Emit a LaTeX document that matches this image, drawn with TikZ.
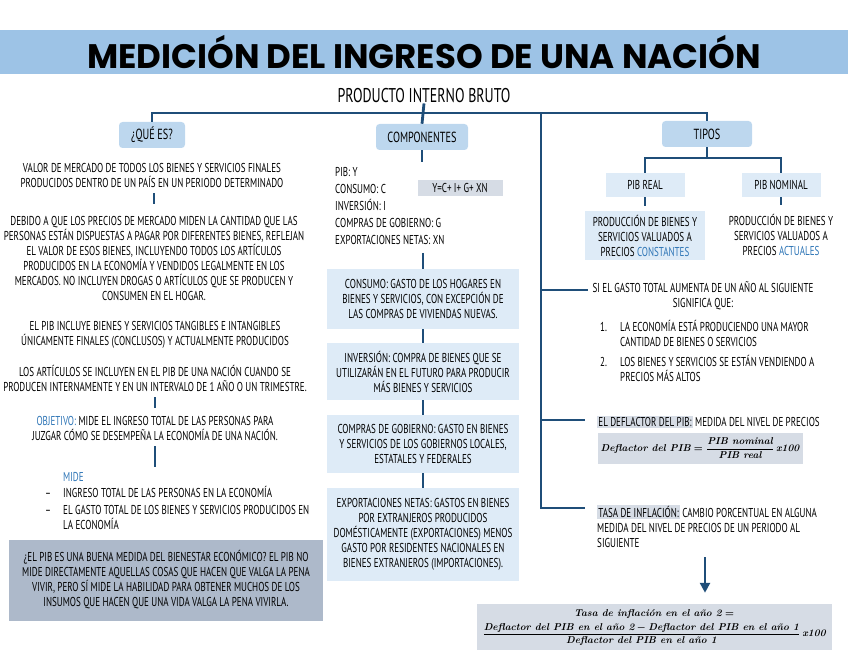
\documentclass[tikz,border=0pt]{standalone}
\usepackage{amsmath}
\usepackage{fontspec}
\usepackage{tikz}
\usetikzlibrary{arrows.meta,positioning}
\definecolor{MINavy}{HTML}{1F4E79}
\definecolor{MIBand}{HTML}{9DC3E6}
\definecolor{MICat}{HTML}{BDD7EE}
\definecolor{MILight}{HTML}{DEEBF7}
\definecolor{MIGray}{HTML}{D6DCE5}
\definecolor{MISlate}{HTML}{ADB9CA}
\definecolor{MIBlue}{HTML}{2E75B6}
\newfontfamily\handfont{PT Sans}[FakeStretch=0.7]
\newfontfamily\titlefont{Poppins}
\newlength{\pxu}
\setlength{\pxu}{0.03cm}
\setlength{\fboxsep}{1pt}

\begin{document}
\begin{tikzpicture}[
  x=0.03cm, y=-0.03cm,
  hand/.style={font=\handfont\fontsize{11}{12.8}\selectfont,align=center,inner sep=0pt},
  band/.style={fill=MIBand,minimum width=848\pxu,minimum height=44\pxu,inner sep=0pt,
    font=\titlefont\bfseries\fontsize{29}{32}\selectfont},
  catbox/.style={hand,font=\handfont\fontsize{12.5}{14}\selectfont,fill=MICat,
    rounded corners=3pt,minimum height=26\pxu},
  subbox/.style={hand,fill=MILight,minimum width=79\pxu,minimum height=24\pxu},
  compbox/.style={hand,fill=MILight,minimum width=192\pxu},
  formbox/.style={fill=MIGray,inner sep=0pt,
    font=\normalfont\boldmath\bfseries\itshape\fontsize{8.5}{10}\selectfont},
  link/.style={draw=MINavy,line width=2.4pt},
  arrowlink/.style={link,-{Triangle[length=3mm,width=3mm]}}
]
  \useasboundingbox (0,0) rectangle (848,655);

  \node[band] (title) at (424,52) {MEDICIÓN DEL INGRESO DE UNA NACIÓN};
  \node[hand,font=\handfont\fontsize{17}{20}\selectfont] (pib) at (424,96) {PRODUCTO INTERNO BRUTO};

  \node[catbox,minimum width=66\pxu] (que) at (152,135) {¿QUÉ ES?};
  \node[catbox,minimum width=92\pxu] (comp) at (422,137) {COMPONENTES};
  \node[catbox,minimum width=90\pxu] (tipos) at (707,134) {TIPOS};

  \coordinate (jr) at (707,113);
  \coordinate (jm) at (541,113);
  \draw[link] (que.north) |- (jr) -- (tipos.north);
  \draw[link] (pib.south) -- (comp.north);

  % que es
  \node[hand] (q1) at (152,175) {VALOR DE MERCADO DE TODOS LOS BIENES Y SERVICIOS FINALES\\
    PRODUCIDOS DENTRO DE UN PAÍS EN UN PERIODO DETERMINADO};
  \node[hand] (q2) at (154,258) {DEBIDO A QUE LOS PRECIOS DE MERCADO MIDEN LA CANTIDAD QUE LAS\\
    PERSONAS ESTÁN DISPUESTAS A PAGAR POR DIFERENTES BIENES, REFLEJAN\\
    EL VALOR DE ESOS BIENES, INCLUYENDO TODOS LOS ARTÍCULOS\\
    PRODUCIDOS EN LA ECONOMÍA Y VENDIDOS LEGALMENTE EN LOS\\
    MERCADOS. NO INCLUYEN DROGAS O ARTÍCULOS QUE SE PRODUCEN Y\\
    CONSUMEN EN EL HOGAR.};
  \node[hand] (q3) at (155,335) {EL PIB INCLUYE BIENES Y SERVICIOS TANGIBLES E INTANGIBLES\\
    ÚNICAMENTE FINALES (CONCLUSOS) Y ACTUALMENTE PRODUCIDOS};
  \node[hand] (q4) at (155,378) {LOS ARTÍCULOS SE INCLUYEN EN EL PIB DE UNA NACIÓN CUANDO SE\\
    PRODUCEN INTERNAMENTE Y EN UN INTERVALO DE 1 AÑO O UN TRIMESTRE.};
  \node[hand] (q5) at (155,428) {\textcolor{MIBlue}{OBJETIVO:} MIDE EL INGRESO TOTAL DE LAS PERSONAS PARA\\
    JUZGAR CÓMO SE DESEMPEÑA LA ECONOMÍA DE UNA NACIÓN.};
  \node[hand,anchor=west] (mide) at (63,477) {\textcolor{MIBlue}{MIDE}};
  \node[hand,align=left,anchor=north west] (midel) at (45,486) {%
    \begin{tabular}{@{}p{18\pxu}@{}p{262\pxu}@{}}
      – & INGRESO TOTAL DE LAS PERSONAS EN LA ECONOMÍA\\[2pt]
      – & EL GASTO TOTAL DE LOS BIENES Y SERVICIOS PRODUCIDOS EN\newline LA ECONOMÍA
    \end{tabular}};
  \node[hand,fill=MISlate,minimum width=314\pxu,minimum height=81\pxu] (q7) at (166,580)
    {¿EL PIB ES UNA BUENA MEDIDA DEL BIENESTAR ECONÓMICO? EL PIB NO\\
    MIDE DIRECTAMENTE AQUELLAS COSAS QUE HACEN QUE VALGA LA PENA\\
    VIVIR, PERO SÍ MIDE LA HABILIDAD PARA OBTENER MUCHOS DE LOS\\
    INSUMOS QUE HACEN QUE UNA VIDA VALGA LA PENA VIVIRLA.};

  \draw[link,shorten <=6\pxu,shorten >=12\pxu] (q1.south -| q2.north) -- (q2.north);
  \draw[link,shorten <=6\pxu,shorten >=8\pxu] (q4.south) -- (q5.north);
  \draw[link,shorten <=6\pxu,shorten >=5\pxu] (q5.south) -- (q5.south |- mide.north);

  % componentes
  \node[hand,align=left,anchor=west,font=\handfont\fontsize{11}{14.5}\selectfont] (clist) at (335,206)
    {PIB: Y\\CONSUMO: C\\INVERSIÓN: I\\COMPRAS DE GOBIERNO: G\\EXPORTACIONES NETAS: XN};
  \node[hand,fill=MIGray,minimum width=85\pxu,minimum height=16\pxu] (ceq) at (460,188) {Y=C+ I+ G+ XN};
  \node[compbox,minimum height=60\pxu] (cons) at (423,299) {CONSUMO: GASTO DE LOS HOGARES EN\\
    BIENES Y SERVICIOS, CON EXCEPCIÓN DE\\LAS COMPRAS DE VIVIENDAS NUEVAS.};
  \node[compbox,minimum height=57\pxu] (inv) at (423,371.5) {INVERSIÓN: COMPRA DE BIENES QUE SE\\
    UTILIZARÁN EN EL FUTURO PARA PRODUCIR\\MÁS BIENES Y SERVICIOS};
  \node[compbox,minimum height=58\pxu] (gov) at (423,444) {COMPRAS DE GOBIERNO: GASTO EN BIENES\\
    Y SERVICIOS DE LOS GOBIERNOS LOCALES,\\ESTATALES Y FEDERALES};
  \node[compbox,minimum height=93\pxu] (expo) at (423,534.5) {EXPORTACIONES NETAS: GASTOS EN BIENES\\
    POR EXTRANJEROS PRODUCIDOS\\DOMÉSTICAMENTE (EXPORTACIONES) MENOS\\
    GASTO POR RESIDENTES NACIONALES EN\\BIENES EXTRANJEROS (IMPORTACIONES).};

  \draw[link,shorten >=5\pxu] (comp.south) -- (comp.south |- clist.north);
  \draw[link,shorten <=8\pxu] (clist.south -| cons.north) -- (cons.north);
  \draw[link] (cons.south) -- (inv.north);
  \draw[link] (inv.south) -- (gov.north);
  \draw[link] (gov.south) -- (expo.north);

  % tipos
  \coordinate (tj) at (707,158);
  \node[subbox] (real) at (645,185) {PIB REAL};
  \node[subbox] (nominal) at (781,185) {PIB NOMINAL};
  \node[hand,fill=MILight,minimum width=120\pxu,minimum height=49\pxu] (realtx) at (645,236)
    {PRODUCCIÓN DE BIENES Y\\SERVICIOS VALUADOS A\\PRECIOS \textcolor{MIBlue}{CONSTANTES}};
  \node[hand] (nominaltx) at (781,235)
    {PRODUCCIÓN DE BIENES Y\\SERVICIOS VALUADOS A\\PRECIOS \textcolor{MIBlue}{ACTUALES}};
  \draw[link] (tipos.south) -- (tj);
  \draw[link] (real.north) |- (tj) -| (nominal.north);
  \draw[link,shorten >=5\pxu] (real.south) -- (realtx.north);
  \draw[link,shorten >=9\pxu] (nominal.south) -- (nominaltx.north);

  % gasto, deflactor, inflacion
  \coordinate (b1) at (588,290);
  \coordinate (b2) at (585,420);
  \coordinate (b3) at (585,508);
  \draw[link] (jm) |- (b3);
  \draw[link] (jm |- b1) -- (b1);
  \draw[link] (jm |- b2) -- (b2);

  \node[hand] (gasto) at (703,296) {SI EL GASTO TOTAL AUMENTA DE UN AÑO AL SIGUIENTE\\SIGNIFICA QUE:};
  \node[hand,align=left,anchor=north west] (gastol) at (600,320) {%
    \begin{tabular}{@{}p{20\pxu}@{}p{205\pxu}@{}}
      1. & LA ECONOMÍA ESTÁ PRODUCIENDO UNA MAYOR\newline CANTIDAD DE BIENES O SERVICIOS\\[4pt]
      2. & LOS BIENES Y SERVICIOS SE ESTÁN VENDIENDO A\newline PRECIOS MÁS ALTOS
    \end{tabular}};
  \node[hand,anchor=west] (defl) at (597,422)
    {\colorbox{MIGray}{EL DEFLACTOR DEL PIB:} MEDIDA DEL NIVEL DE PRECIOS};
  \node[formbox,minimum width=205\pxu,minimum height=31\pxu] (deflf) at (700,448)
    {$\text{Deflactor del PIB} = \dfrac{\text{PIB nominal}}{\text{PIB real}}\,\text{x100}$};
  \node[hand,align=left,anchor=north west] (tasa) at (597,505)
    {\colorbox{MIGray}{TASA DE INFLACIÓN:} CAMBIO PORCENTUAL EN ALGUNA\\
    MEDIDA DEL NIVEL DE PRECIOS DE UN PERIODO AL\\SIGUIENTE};
  \node[formbox,minimum width=355\pxu,minimum height=46\pxu] (tasaf) at (654,627)
    {$\begin{array}{@{}c@{}}\text{Tasa de inflación en el año 2} =\\[3pt]
    \dfrac{\text{Deflactor del PIB en el año 2} - \text{Deflactor del PIB en el año 1}}
    {\text{Deflactor del PIB en el año 1}}\,\text{x100}\end{array}$};
  \coordinate (ta) at (705,557);
  \draw[arrowlink,shorten >=11\pxu] (ta) -- (ta |- tasaf.north);
\end{tikzpicture}
\end{document}
